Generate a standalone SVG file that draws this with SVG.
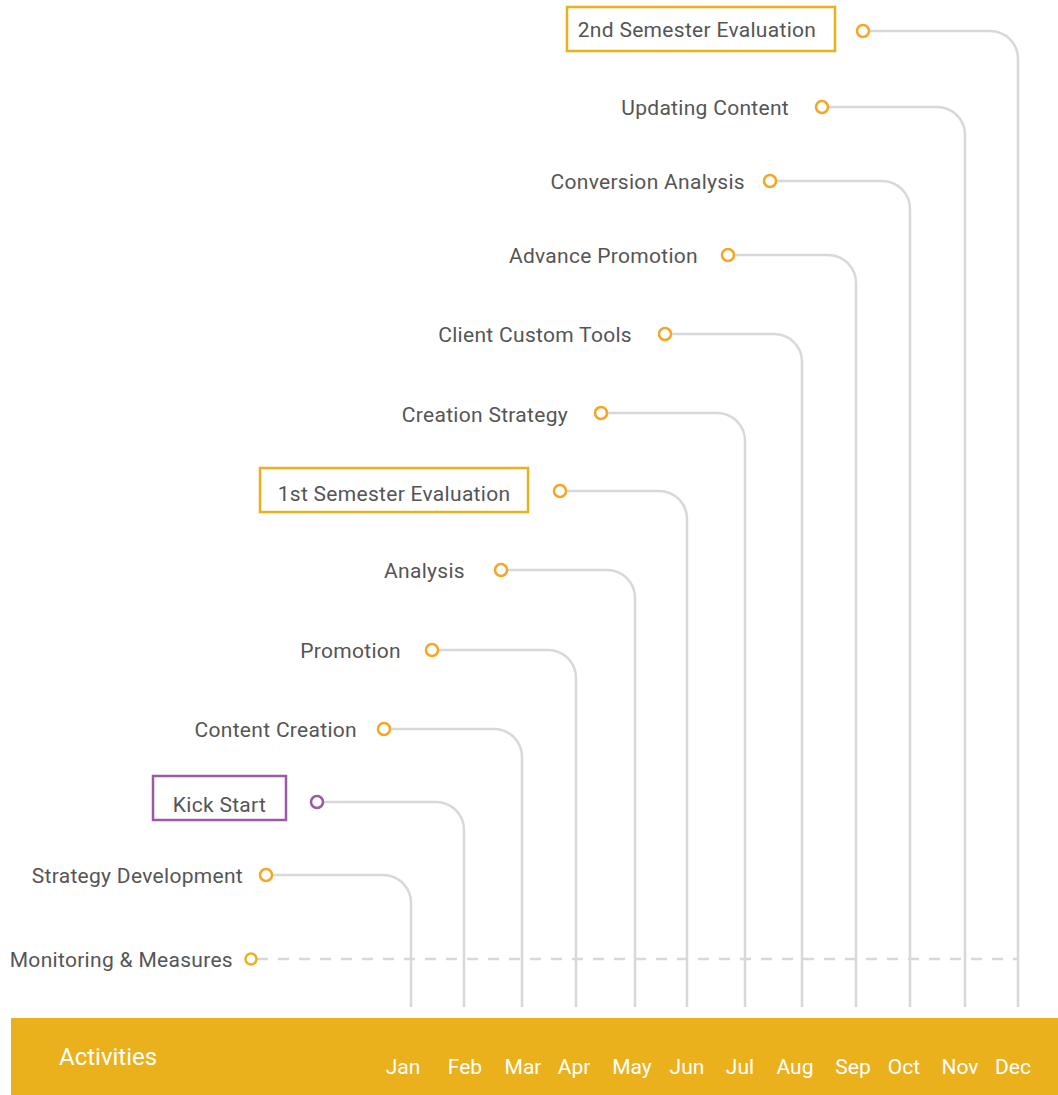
<svg xmlns="http://www.w3.org/2000/svg" width="1058" height="1095" viewBox="0 0 1058 1095">
<style>
.lbl{font-family:Roboto,"Liberation Sans",sans-serif;font-size:21px;letter-spacing:0.3px;fill:#555555}
.conn{fill:none;stroke:#d8d8d8;stroke-width:2.5}
.dot{fill:#ffffff;stroke:#F5A623;stroke-width:2.5}
.box{fill:#ffffff;stroke:#EBB11C;stroke-width:2.5}
.mon{font-family:Roboto,"Liberation Sans",sans-serif;font-size:21px;fill:#ffffff;text-anchor:middle}
</style>
<rect width="1058" height="1095" fill="#ffffff"/>
<g id="connectors">
<path class="conn" d="M869 31 H990 A28 28 0 0 1 1018 59 V1007"/>
<path class="conn" d="M828 107 H937 A28 28 0 0 1 965 135 V1007"/>
<path class="conn" d="M776 181 H882 A28 28 0 0 1 910 209 V1007"/>
<path class="conn" d="M734 255 H828 A28 28 0 0 1 856 283 V1007"/>
<path class="conn" d="M671 334 H774 A28 28 0 0 1 802 362 V1007"/>
<path class="conn" d="M607 413 H717 A28 28 0 0 1 745 441 V1007"/>
<path class="conn" d="M566 491 H659 A28 28 0 0 1 687 519 V1007"/>
<path class="conn" d="M507 570 H607 A28 28 0 0 1 635 598 V1007"/>
<path class="conn" d="M438 650 H548 A28 28 0 0 1 576 678 V1007"/>
<path class="conn" d="M390 729 H494 A28 28 0 0 1 522 757 V1007"/>
<path class="conn" d="M323 802 H436 A28 28 0 0 1 464 830 V1007"/>
<path class="conn" d="M272 875 H383 A28 28 0 0 1 411 903 V1007"/>
<path class="conn" d="M257 959 H1018" stroke-dasharray="11 10"/>
</g>
<g id="n-2nd-semester">
<rect class="box" x="567" y="7" width="268" height="44"/>
<text class="lbl" x="697" y="37" text-anchor="middle">2nd Semester Evaluation</text>
<circle class="dot" cx="863" cy="31" r="6"/>
</g>
<g id="n-updating-content">
<text class="lbl" x="789" y="115" text-anchor="end">Updating Content</text>
<circle class="dot" cx="822" cy="107" r="6"/>
</g>
<g id="n-conversion-analysis">
<text class="lbl" x="745" y="189" text-anchor="end">Conversion Analysis</text>
<circle class="dot" cx="770" cy="181" r="6"/>
</g>
<g id="n-advance-promotion">
<text class="lbl" x="698" y="263" text-anchor="end">Advance Promotion</text>
<circle class="dot" cx="728" cy="255" r="6"/>
</g>
<g id="n-client-custom-tools">
<text class="lbl" x="632" y="342" text-anchor="end">Client Custom Tools</text>
<circle class="dot" cx="665" cy="334" r="6"/>
</g>
<g id="n-creation-strategy">
<text class="lbl" x="568" y="422" text-anchor="end">Creation Strategy</text>
<circle class="dot" cx="601" cy="413" r="6"/>
</g>
<g id="n-1st-semester">
<rect class="box" x="260" y="468" width="268" height="44"/>
<text class="lbl" x="394" y="501" text-anchor="middle">1st Semester Evaluation</text>
<circle class="dot" cx="560" cy="491" r="6"/>
</g>
<g id="n-analysis">
<text class="lbl" x="465" y="578" text-anchor="end">Analysis</text>
<circle class="dot" cx="501" cy="570" r="6"/>
</g>
<g id="n-promotion">
<text class="lbl" x="401" y="658" text-anchor="end">Promotion</text>
<circle class="dot" cx="432" cy="650" r="6"/>
</g>
<g id="n-content-creation">
<text class="lbl" x="357" y="737" text-anchor="end">Content Creation</text>
<circle class="dot" cx="384" cy="729" r="6"/>
</g>
<g id="n-kick-start">
<rect x="153" y="776" width="133" height="44" fill="#ffffff" stroke="#9B59A6" stroke-width="2.5"/>
<text class="lbl" x="219.5" y="812" text-anchor="middle">Kick Start</text>
<circle cx="317" cy="802" r="6" fill="#ffffff" stroke="#9B59A6" stroke-width="2.5"/>
</g>
<g id="n-strategy-development">
<text class="lbl" x="243" y="883" text-anchor="end">Strategy Development</text>
<circle class="dot" cx="266" cy="875" r="6"/>
</g>
<g id="n-monitoring">
<text class="lbl" x="233" y="967" text-anchor="end">Monitoring &amp; Measures</text>
<circle cx="251" cy="959" r="5.5" fill="#ffffff" stroke="#EBB11C" stroke-width="2.5"/>
</g>
<g id="timeline-bar">
<rect x="11" y="1018" width="1047" height="77" fill="#EBB11C"/>
<text x="59" y="1065" font-family="Roboto,'Liberation Sans',sans-serif" font-size="24" fill="#ffffff">Activities</text>
<text class="mon" x="403" y="1074">Jan</text>
<text class="mon" x="465" y="1074">Feb</text>
<text class="mon" x="523" y="1074">Mar</text>
<text class="mon" x="574" y="1074">Apr</text>
<text class="mon" x="632" y="1074">May</text>
<text class="mon" x="687" y="1074">Jun</text>
<text class="mon" x="740" y="1074">Jul</text>
<text class="mon" x="795" y="1074">Aug</text>
<text class="mon" x="853" y="1074">Sep</text>
<text class="mon" x="904" y="1074">Oct</text>
<text class="mon" x="960" y="1074">Nov</text>
<text class="mon" x="1013" y="1074">Dec</text>
</g>
</svg>
